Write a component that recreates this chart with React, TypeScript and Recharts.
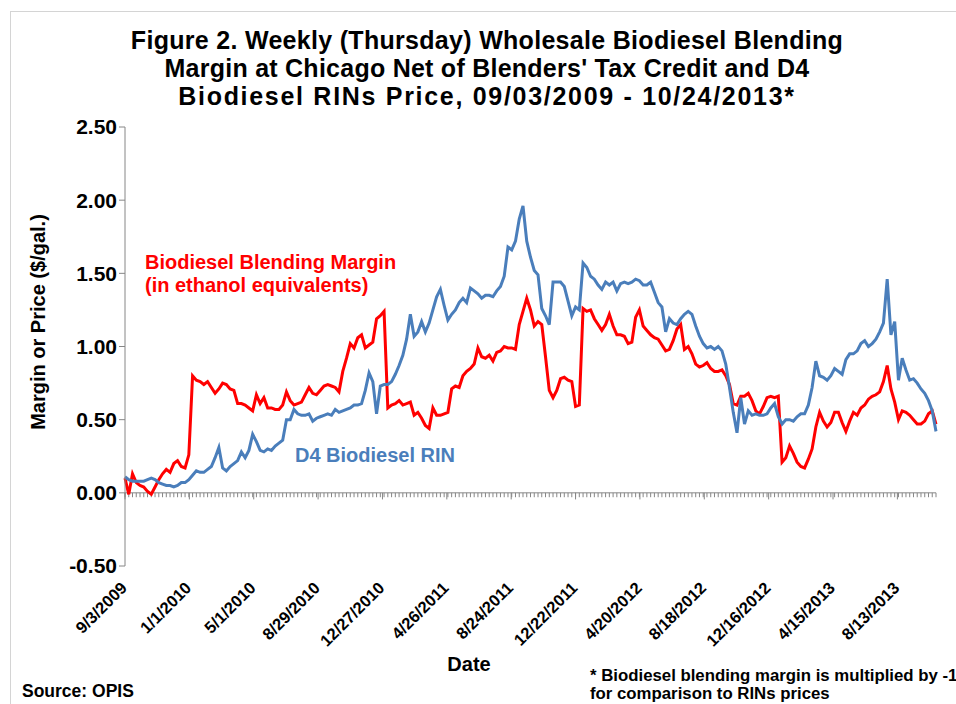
import { LineChart, Line, XAxis, YAxis, ReferenceLine } from 'recharts';

// Weekly (Thursday) observations starting 9/3/2009, values in $/gal.
const MARGIN = [
  0.10, -0.01, 0.13, 0.07, 0.05, 0.04, 0.01, -0.01, 0.04, 0.09,
  0.13, 0.16, 0.14, 0.20, 0.22, 0.18, 0.17, 0.26, 0.80, 0.77,
  0.76, 0.74, 0.76, 0.72, 0.68, 0.71, 0.75, 0.74, 0.71, 0.70,
  0.61, 0.61, 0.60, 0.58, 0.56, 0.67, 0.61, 0.65, 0.58, 0.58,
  0.57, 0.57, 0.60, 0.69, 0.63, 0.60, 0.61, 0.62, 0.67, 0.72,
  0.68, 0.67, 0.70, 0.73, 0.74, 0.73, 0.72, 0.69, 0.83, 0.92,
  1.02, 0.99, 1.06, 1.08, 0.99, 1.01, 1.03, 1.19, 1.21, 1.24,
  0.58, 0.60, 0.61, 0.63, 0.60, 0.61, 0.62, 0.53, 0.55, 0.51,
  0.46, 0.44, 0.58, 0.53, 0.53, 0.54, 0.55, 0.71, 0.73, 0.72,
  0.80, 0.83, 0.85, 0.88, 0.99, 0.93, 0.92, 0.94, 0.90, 0.96,
  0.97, 1.00, 0.99, 0.99, 0.98, 1.15, 1.24, 1.33, 1.25, 1.14,
  1.17, 1.15, 0.93, 0.70, 0.65, 0.70, 0.78, 0.79, 0.77, 0.76,
  0.59, 0.60, 1.26, 1.24, 1.25, 1.19, 1.15, 1.11, 1.15, 1.22,
  1.14, 1.08, 1.08, 1.07, 1.02, 1.03, 1.20, 1.25, 1.14, 1.11,
  1.08, 1.06, 1.05, 1.01, 0.97, 0.98, 1.04, 1.12, 1.15, 0.98,
  1.00, 0.95, 0.88, 0.86, 0.87, 0.89, 0.85, 0.83, 0.83, 0.84,
  0.80, 0.74, 0.61, 0.60, 0.66, 0.66, 0.68, 0.63, 0.56, 0.54,
  0.59, 0.65, 0.66, 0.65, 0.66, 0.21, 0.24, 0.32, 0.27, 0.21,
  0.18, 0.17, 0.23, 0.30, 0.45, 0.55, 0.49, 0.45, 0.48, 0.55,
  0.55, 0.48, 0.42, 0.49, 0.55, 0.53, 0.58, 0.60, 0.64, 0.66,
  0.67, 0.69, 0.76, 0.87, 0.71, 0.62, 0.50, 0.56, 0.55, 0.53,
  0.50, 0.47, 0.47, 0.49, 0.54, 0.56, 0.47,
];

const RIN = [
  0.11, 0.09, 0.08, 0.08, 0.08, 0.08, 0.09, 0.10, 0.09, 0.07,
  0.06, 0.05, 0.05, 0.04, 0.05, 0.07, 0.07, 0.09, 0.12, 0.15,
  0.14, 0.14, 0.16, 0.18, 0.24, 0.31, 0.17, 0.15, 0.18, 0.20,
  0.22, 0.28, 0.24, 0.29, 0.40, 0.35, 0.29, 0.28, 0.30, 0.29,
  0.32, 0.34, 0.36, 0.50, 0.50, 0.57, 0.54, 0.53, 0.53, 0.54,
  0.49, 0.51, 0.52, 0.53, 0.54, 0.53, 0.57, 0.55, 0.56, 0.57,
  0.58, 0.60, 0.60, 0.61, 0.70, 0.82, 0.76, 0.54, 0.73, 0.74,
  0.74, 0.76, 0.81, 0.87, 0.94, 1.05, 1.22, 1.07, 1.10, 1.17,
  1.10, 1.16, 1.25, 1.34, 1.39, 1.28, 1.18, 1.22, 1.25, 1.30,
  1.33, 1.30, 1.40, 1.38, 1.36, 1.33, 1.35, 1.35, 1.34, 1.38,
  1.41, 1.48, 1.68, 1.66, 1.72, 1.87, 1.96, 1.72, 1.61, 1.52,
  1.49, 1.26, 1.21, 1.15, 1.44, 1.44, 1.44, 1.41, 1.31, 1.21,
  1.27, 1.25, 1.57, 1.54, 1.48, 1.46, 1.42, 1.39, 1.44, 1.42,
  1.44, 1.38, 1.43, 1.44, 1.43, 1.44, 1.46, 1.45, 1.42, 1.42,
  1.44, 1.37, 1.30, 1.27, 1.10, 1.19, 1.16, 1.15, 1.19, 1.22,
  1.24, 1.22, 1.14, 1.07, 1.02, 0.99, 1.00, 0.98, 1.00, 0.97,
  0.88, 0.72, 0.55, 0.41, 0.65, 0.47, 0.56, 0.53, 0.54, 0.53,
  0.53, 0.54, 0.58, 0.61, 0.52, 0.47, 0.50, 0.50, 0.49, 0.52,
  0.54, 0.54, 0.60, 0.72, 0.90, 0.80, 0.79, 0.77, 0.80, 0.85,
  0.83, 0.81, 0.91, 0.95, 0.95, 0.97, 1.02, 1.04, 1.00, 1.02,
  1.05, 1.10, 1.16, 1.46, 1.08, 1.17, 0.77, 0.92, 0.84, 0.77,
  0.78, 0.75, 0.71, 0.68, 0.63, 0.56, 0.42,
];

// x axis: days since 9/3/2009, major labels every 120 days
const LAST_DAY = 1512;
const TICK_DAYS = [0, 120, 240, 360, 480, 600, 720, 840, 960, 1080, 1200, 1320, 1440];
const TICK_LABELS = [
  '9/3/2009', '1/1/2010', '5/1/2010', '8/29/2010', '12/27/2010', '4/26/2011', '8/24/2011',
  '12/22/2011', '4/20/2012', '8/18/2012', '12/16/2012', '4/15/2013', '8/13/2013',
];
const Y_TICKS = [-0.5, 0, 0.5, 1, 1.5, 2, 2.5];

const rows = MARGIN.map((m, i) => ({ day: i * 7, margin: m, rin: RIN[i] }));

const FONT = '"Liberation Sans", Arial, sans-serif';
const AXIS_GRAY = '#868686';

function DateTick(props: any) {
  const { x, y, payload } = props;
  const label = TICK_LABELS[TICK_DAYS.indexOf(payload.value)];
  const ax = x + 3;
  const ay = y + 23;
  return (
    <text
      x={ax}
      y={ay}
      transform={`rotate(-45, ${ax}, ${ay})`}
      textAnchor="end"
      fontSize={16.5}
      fontWeight="bold"
      fill="#000"
    >
      {label}
    </text>
  );
}

export default function App() {
  return (
    <div
      style={{
        position: 'absolute',
        left: 0,
        top: 0,
        width: 956,
        height: 704,
        overflow: 'hidden',
        background: '#fff',
        fontFamily: FONT,
        color: '#000',
      }}
    >
      <div
        style={{
          position: 'absolute',
          left: 10,
          top: 11,
          width: 980,
          height: 720,
          border: '1px solid #d4d4d4',
        }}
      />
      <div style={{ position: 'absolute', left: 0, top: 0 }}>
        <LineChart
          width={956}
          height={704}
          data={rows}
          margin={{ top: 127, right: 20, left: 0, bottom: 78 }}
        >
          <XAxis
            type="number"
            dataKey="day"
            domain={[0, LAST_DAY]}
            ticks={TICK_DAYS}
            tick={<DateTick />}
            axisLine={false}
            tickLine={false}
            tickSize={0}
            tickMargin={0}
            interval={0}
            height={60}
          />
          <YAxis
            type="number"
            domain={[-0.5, 2.5]}
            ticks={Y_TICKS}
            width={125}
            tickFormatter={(v: number) => v.toFixed(2)}
            tick={{ fill: '#000', fontSize: 21, fontWeight: 'bold' }}
            axisLine={{ stroke: AXIS_GRAY }}
            tickLine={{ stroke: AXIS_GRAY }}
            tickSize={6}
            tickMargin={2}
            interval={0}
          />
          <ReferenceLine y={0} stroke={AXIS_GRAY} strokeWidth={1} />
          {rows.map((r) => (
            <ReferenceLine
              key={'m' + r.day}
              segment={[{ x: r.day, y: 0 }, { x: r.day, y: -0.03 }]}
              stroke={AXIS_GRAY}
              strokeWidth={1}
            />
          ))}
          {TICK_DAYS.map((d) => (
            <ReferenceLine
              key={'t' + d}
              segment={[{ x: d, y: 0 }, { x: d, y: -0.045 }]}
              stroke={AXIS_GRAY}
              strokeWidth={1}
            />
          ))}
          <Line
            type="linear"
            dataKey="margin"
            stroke="#FF0000"
            strokeWidth={3}
            dot={false}
            isAnimationActive={false}
          />
          <Line
            type="linear"
            dataKey="rin"
            stroke="#4A7EBB"
            strokeWidth={3}
            dot={false}
            isAnimationActive={false}
          />
        </LineChart>
      </div>

      <div
        style={{
          position: 'absolute',
          left: 0,
          width: 974,
          top: 26,
          textAlign: 'center',
          fontSize: 25,
          fontWeight: 'bold',
          lineHeight: '28px',
          whiteSpace: 'nowrap',
        }}
      >
        <div style={{ letterSpacing: 0.3 }}>Figure 2. Weekly (Thursday) Wholesale Biodiesel Blending</div>
        <div style={{ letterSpacing: 0.25 }}>Margin at Chicago Net of Blenders' Tax Credit and D4</div>
        <div style={{ letterSpacing: 1.7 }}>Biodiesel RINs Price, 09/03/2009 - 10/24/2013*</div>
      </div>

      <div
        style={{
          position: 'absolute',
          left: 38,
          top: 322,
          transform: 'translate(-50%, -50%) rotate(-90deg)',
          fontSize: 20,
          fontWeight: 'bold',
          whiteSpace: 'nowrap',
        }}
      >
        Margin or Price ($/gal.)
      </div>

      <div
        style={{
          position: 'absolute',
          left: 145,
          top: 251,
          fontSize: 20,
          fontWeight: 'bold',
          lineHeight: '23px',
          color: '#FF0000',
          whiteSpace: 'nowrap',
        }}
      >
        <div>Biodiesel Blending Margin</div>
        <div>(in ethanol equivalents)</div>
      </div>

      <div
        style={{
          position: 'absolute',
          left: 295,
          top: 444,
          fontSize: 20,
          fontWeight: 'bold',
          lineHeight: '23px',
          color: '#4A7EBB',
          whiteSpace: 'nowrap',
        }}
      >
        D4 Biodiesel RIN
      </div>

      <div
        style={{
          position: 'absolute',
          left: 369,
          width: 200,
          top: 653,
          textAlign: 'center',
          fontSize: 20,
          fontWeight: 'bold',
          lineHeight: '23px',
        }}
      >
        Date
      </div>

      <div
        style={{
          position: 'absolute',
          left: 22,
          top: 681,
          fontSize: 17.5,
          fontWeight: 'bold',
          lineHeight: '20px',
          whiteSpace: 'nowrap',
        }}
      >
        Source: OPIS
      </div>

      <div
        style={{
          position: 'absolute',
          left: 590,
          top: 667,
          fontSize: 16.8,
          fontWeight: 'bold',
          lineHeight: '18px',
          whiteSpace: 'nowrap',
        }}
      >
        <div>* Biodiesel blending margin is multiplied by -1</div>
        <div>for comparison to RINs prices</div>
      </div>
    </div>
  );
}
